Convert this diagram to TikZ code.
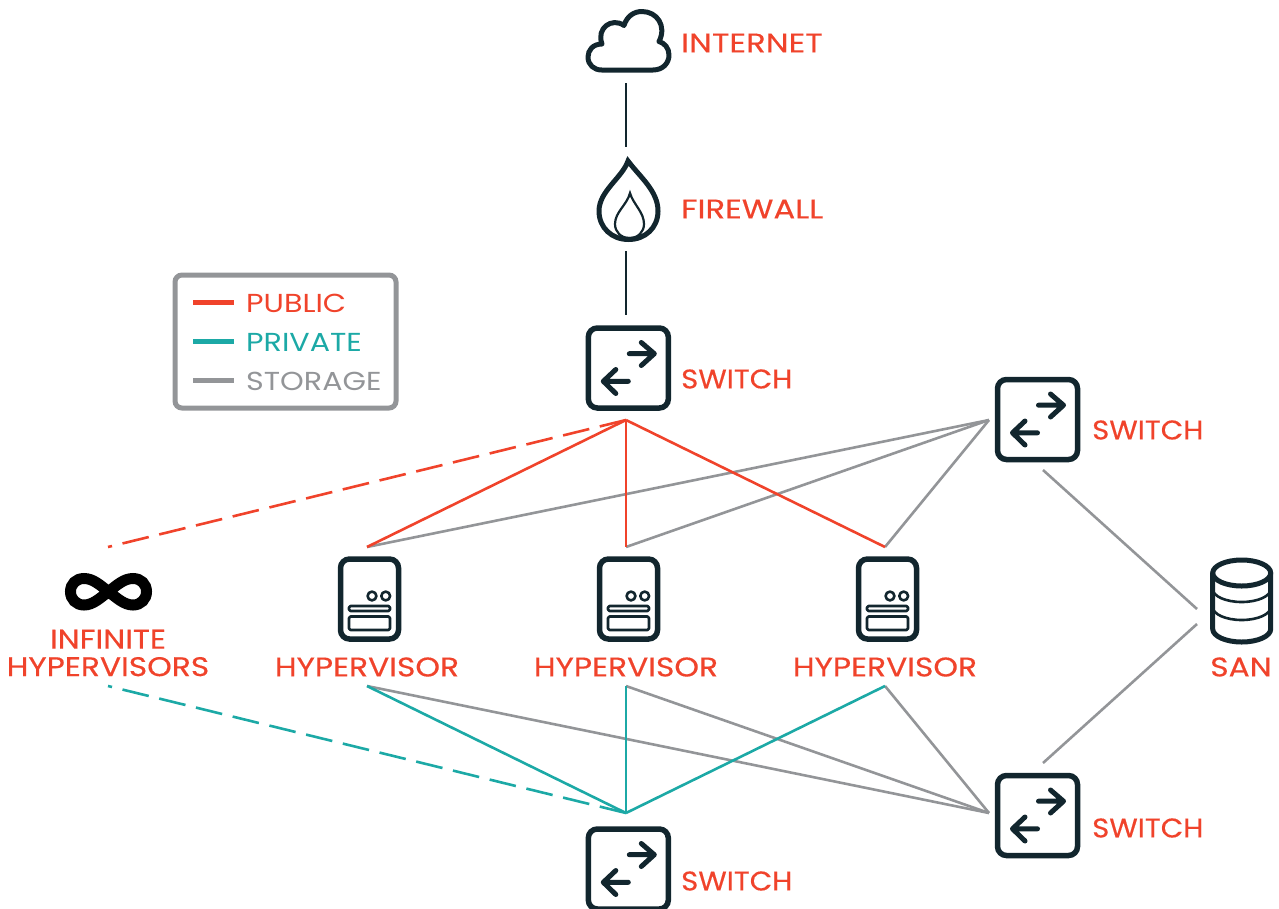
\documentclass[tikz,border=0pt]{standalone}
\usepackage{fontspec}
\setmainfont{Poppins}[FakeStretch=1.16]
\newfontfamily\namefont{Poppins}[FakeStretch=1.16, FakeBold=0.35]
\newfontfamily\widefont{Poppins}[FakeStretch=1.2, FakeBold=0.35]
\newfontfamily\switchfont{Poppins}[FakeStretch=1.08, FakeBold=0.35]
\usepackage{xcolor}
\definecolor{publicred}{RGB}{240, 67, 43}
\definecolor{privateteal}{RGB}{28, 169, 166}
\definecolor{storagegray}{RGB}{147, 149, 152}
\definecolor{icondark}{RGB}{18, 38, 46}
\tikzset{
    iconline/.style={draw=icondark, line width=5pt, line join=round, line cap=round},
    iconthin/.style={draw=icondark, line width=2.6pt, line join=round},
    iconname/.style={text=publicred, font=\namefont\fontsize{27}{27.5}\selectfont, inner sep=0pt, align=center},
    widename/.style={iconname, font=\widefont\fontsize{27}{27.5}\selectfont},
    switchname/.style={iconname, anchor=west, font=\switchfont\fontsize{27}{27.5}\selectfont},
    legendname/.style={font=\fontsize{26}{27}\selectfont, inner sep=0pt, anchor=west},
    link/.style={line width=2.6pt},
    publiclink/.style={link, draw=publicred},
    privatelink/.style={link, draw=privateteal},
    storagelink/.style={link, draw=storagegray},
    farlink/.style={dash pattern=on 27pt off 10.8pt},
    switchicon/.pic={
        \node[draw=icondark, line width=5.5pt, rounded corners=9pt, minimum size=80pt, inner sep=0pt] (-box) at (0,0) {};
        \draw[iconline] (1,-14.3) -- (26,-14.3) (13,-25.5) -- (26,-14.3) -- (13,-2.5);
        \draw[iconline] (0,13.3) -- (-25,13.3) (-12.5,1.5) -- (-25,13.3) -- (-12.5,25.5);
    },
    hypervisoricon/.pic={
        \node[draw=icondark, line width=5.5pt, rounded corners=9pt, minimum width=58pt, minimum height=80pt, inner sep=0pt] (-box) at (0,0) {};
        \draw[iconthin] (2.5,-3) circle (4.4) (16.2,-3) circle (4.4);
        \draw[iconthin, rounded corners=1.5pt] (-20.5,7) rectangle (20.5,12);
        \draw[iconthin, rounded corners=1.5pt] (-20.5,17.5) rectangle (20.5,31);
    }
}
\begin{document}
\begin{tikzpicture}[x=1pt, y=-1pt]
    \useasboundingbox (0,0) rectangle (1279,908);

    % Icons down the middle
    \draw[iconline] (601.7,70) -- (653,70)
        .. controls (663,70) and (669,63) .. (669,55)
        .. controls (669,48) and (664.5,43) .. (659,41.5)
        .. controls (667,26) and (657,11.5) .. (642,11.5)
        .. controls (634,11.5) and (627,16) .. (624,25.5)
        .. controls (612,17) and (596,28) .. (602,44)
        .. controls (593,44) and (588,50) .. (588,57)
        .. controls (588,65) and (594,70) .. (601.7,70) -- cycle;
    \node[widename, anchor=west] (internet) at (681,43) {INTERNET};

    \draw[iconline, line join=miter] (628,161)
        .. controls (640,177) and (658,191) .. (658,211)
        .. controls (658,228) and (645,239.5) .. (628.5,239.5)
        .. controls (612,239.5) and (599,228) .. (599,211)
        .. controls (599,191) and (622,178) .. (628,161) -- cycle;
    \draw[iconthin, line width=2.2pt, line join=miter] (630,193)
        .. controls (633,204) and (644,212) .. (644,224)
        .. controls (644,232) and (638,238) .. (629.5,238)
        .. controls (621,238) and (615,232) .. (615,224)
        .. controls (615,212) and (627,205) .. (630,193) -- cycle;
    \node[widename, anchor=west] (firewall) at (681,209) {FIREWALL};

    \pic (core) at (628.3,368) {switchicon};
    \node[switchname] (corename) at (681,379) {SWITCH};
    \pic (san1) at (1037.5,419.5) {switchicon};
    \node[switchname] (san1name) at (1092,430) {SWITCH};
    \pic (san2) at (1037.5,815.5) {switchicon};
    \node[switchname] (san2name) at (1092,828) {SWITCH};
    \pic (priv) at (628.3,869) {switchicon};
    \node[switchname] (privname) at (681,881) {SWITCH};

    % Hypervisor row
    \pic (hv1) at (369.5,599) {hypervisoricon};
    \pic (hv2) at (628.5,599) {hypervisoricon};
    \pic (hv3) at (887.5,599) {hypervisoricon};
    \node[iconname] (hv1name) at (367,667) {HYPERVISOR};
    \node[iconname] (hv2name) at (626,667) {HYPERVISOR};
    \node[iconname] (hv3name) at (885,667) {HYPERVISOR};

    \draw[draw=black, line width=11pt] (108.5,591.7)
        .. controls (100,585) and (93,578.5) .. (84,578.5)
        .. controls (76,578.5) and (70.5,584) .. (70.5,591.7)
        .. controls (70.5,599) and (76,605) .. (84,605)
        .. controls (93,605) and (100,598) .. (108.5,591.7)
        .. controls (117,585) and (124,578.5) .. (133,578.5)
        .. controls (141,578.5) and (146.5,584) .. (146.5,591.7)
        .. controls (146.5,599) and (141,605) .. (133,605)
        .. controls (124,605) and (117,598) .. (108.5,591.7) -- cycle;
    \node[iconname] (infname) at (108,653) {INFINITE\\HYPERVISORS};

    % Storage array
    \draw[iconline] (1212.7,573) arc[start angle=180, end angle=-180, x radius=29, y radius=13];
    \draw[iconline] (1212.7,573) -- (1212.7,629) arc[start angle=180, end angle=0, x radius=29, y radius=13] -- (1270.7,573);
    \draw[iconthin] (1212.7,589) arc[start angle=180, end angle=0, x radius=29, y radius=13];
    \draw[iconthin] (1212.7,607) arc[start angle=180, end angle=0, x radius=29, y radius=13];
    \node[iconname] (sanname) at (1241,667) {SAN};

    % Legend
    \node[draw=storagegray, line width=5pt, rounded corners=7pt, minimum width=221pt, minimum height=133pt, inner sep=0pt] (legend) at (285.5,341.5) {};
    \coordinate (pubA) at (193,302);
    \coordinate (pubB) at (234,302);
    \coordinate (privA) at (193,341);
    \coordinate (privB) at (234,341);
    \coordinate (storA) at (193,380);
    \coordinate (storB) at (234,380);
    \draw[publicred, line width=5pt] (pubA) -- (pubB);
    \draw[privateteal, line width=5pt] (privA) -- (privB);
    \draw[storagegray, line width=5pt] (storA) -- (storB);
    \node[legendname, text=publicred] (pubname) at (246,303) {PUBLIC};
    \node[legendname, text=privateteal] (privatename) at (246,342) {PRIVATE};
    \node[legendname, text=storagegray] (storname) at (246,381) {STORAGE};

    % Link ends
    \coordinate (cloudS) at (626,83);
    \coordinate (fireN) at (626,147);
    \coordinate (fireS) at (626,251);
    \coordinate (coreN) at (626,315);
    \coordinate (coreS) at (626,420);
    \coordinate (san1W) at (989,420);
    \coordinate (san1S) at (1043,470);
    \coordinate (san2N) at (1043,763);
    \coordinate (san2W) at (989,813);
    \coordinate (privN) at (626,813);
    \coordinate (arrayA) at (1197,609);
    \coordinate (arrayB) at (1197,624);
    \coordinate (infN) at (108,547);
    \coordinate (infS) at (108,686);
    \coordinate (hv1N) at (367,547);
    \coordinate (hv2N) at (626,547);
    \coordinate (hv3N) at (885,547);
    \coordinate (hv1S) at (367,686);
    \coordinate (hv2S) at (626,686);
    \coordinate (hv3S) at (885,686);

    \draw[icondark, line width=2.6pt] (cloudS) -- (fireN);
    \draw[icondark, line width=2.6pt] (fireS) -- (coreN);

    \draw[storagelink] (san1W) -- (hv1N);
    \draw[storagelink] (san1W) -- (hv2N);
    \draw[storagelink] (san1W) -- (hv3N);
    \draw[storagelink] (san2W) -- (hv1S);
    \draw[storagelink] (san2W) -- (hv2S);
    \draw[storagelink] (san2W) -- (hv3S);
    \draw[storagelink] (san1S) -- (arrayA);
    \draw[storagelink] (san2N) -- (arrayB);

    \draw[publiclink] (coreS) -- (hv1N);
    \draw[publiclink] (coreS) -- (hv2N);
    \draw[publiclink] (coreS) -- (hv3N);
    \draw[publiclink, farlink] (coreS) -- (infN);
    \draw[privatelink] (privN) -- (hv1S);
    \draw[privatelink] (privN) -- (hv2S);
    \draw[privatelink] (privN) -- (hv3S);
    \draw[privatelink, farlink] (privN) -- (infS);
\end{tikzpicture}
\end{document}
